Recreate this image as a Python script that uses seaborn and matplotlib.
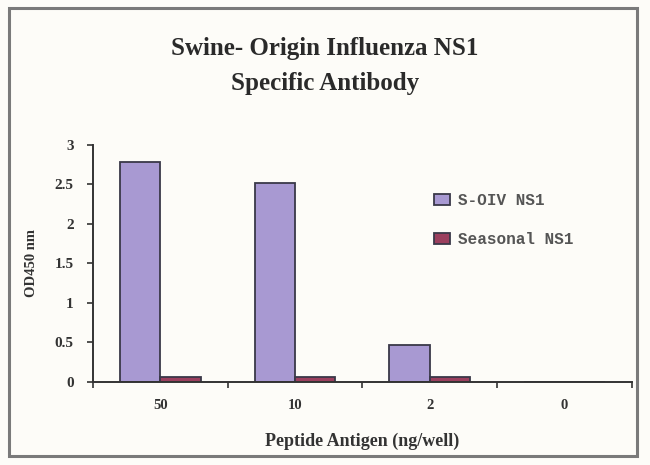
import pandas as pd
import seaborn as sns
import matplotlib.pyplot as plt
from matplotlib.patches import Rectangle

concentrations = ["50", "10", "2", "0"]
soiv_ns1 = [2.78, 2.52, 0.47, 0.0]
seasonal_ns1 = [0.06, 0.06, 0.06, 0.0]
series_names = ["S-OIV NS1", "Seasonal NS1"]
y_ticks = [0, 0.5, 1, 1.5, 2, 2.5, 3]
y_tick_labels = ["0", "0.5", "1", "1.5", "2", "2.5", "3"]

data = pd.DataFrame({
    "Peptide": concentrations * 2,
    "OD": soiv_ns1 + seasonal_ns1,
    "Series": [series_names[0]] * len(concentrations) + [series_names[1]] * len(concentrations),
})

sns.set_style("white")
plt.rcParams["font.family"] = ["Liberation Serif", "DejaVu Serif"]

bg = "#fdfcf8"
fig = plt.figure(figsize=(6.5, 4.65), dpi=100, facecolor=bg)
fig.patches.append(Rectangle((0.014, 0.02), 0.966, 0.962, transform=fig.transFigure,
                             fill=False, edgecolor="#7a7a7a", linewidth=2.2))

ax = fig.add_axes([0.143, 0.1785, 0.829, 0.51])
ax.set_facecolor(bg)
sns.barplot(data=data, x="Peptide", y="OD", hue="Series", order=concentrations,
            palette=["#a899d2", "#9b3f5e"], width=0.6, edgecolor="#3a3848",
            linewidth=1.3, saturation=1, ax=ax)

ax.set_ylim(0, 3)
ax.set_xlim(-0.5, 3.5)
ax.set_yticks(y_ticks)
ax.set_yticklabels(y_tick_labels, fontsize=11, fontweight="bold", color="#333333")
ax.set_xticks([-0.5, 0.5, 1.5, 2.5, 3.5], minor=True)
ax.tick_params(axis="x", which="major", bottom=True, length=0, pad=12, labelsize=10.5, labelcolor="#333333")
ax.tick_params(axis="x", which="minor", bottom=True, length=4, width=1.2, color="#333333", direction="out")
ax.tick_params(axis="y", left=True, length=4, width=1.2, color="#333333", direction="out", pad=10)
for lbl in ax.get_xticklabels():
    lbl.set_fontweight("bold")

sns.despine(ax=ax, top=True, right=True)
ax.spines["left"].set_color("#333333")
ax.spines["bottom"].set_color("#333333")
ax.spines["left"].set_linewidth(1.4)
ax.spines["bottom"].set_linewidth(1.4)

ax.set_xlabel("Peptide Antigen (ng/well)", fontsize=13, fontweight="bold",
              color="#333333", labelpad=15)
ax.set_ylabel("OD450 nm", fontsize=10.5, fontweight="bold", color="#333333", labelpad=12)

leg = ax.legend(loc="upper left", bbox_to_anchor=(0.646, 0.615),
                bbox_transform=fig.transFigure, frameon=False,
                labelspacing=1.5, handlelength=1.0, handleheight=0.7,
                handletextpad=0.5, prop={"family": "Liberation Mono", "weight": "bold", "size": 11.5})
for t in leg.get_texts():
    t.set_color("#555555")

fig.text(0.5, 0.858, "Swine- Origin Influenza NS1\nSpecific Antibody", ha="center", va="center",
         fontsize=18, fontweight="bold", color="#2a2a2a", linespacing=1.7)

fig.savefig("out.png", dpi=100, facecolor=bg)
